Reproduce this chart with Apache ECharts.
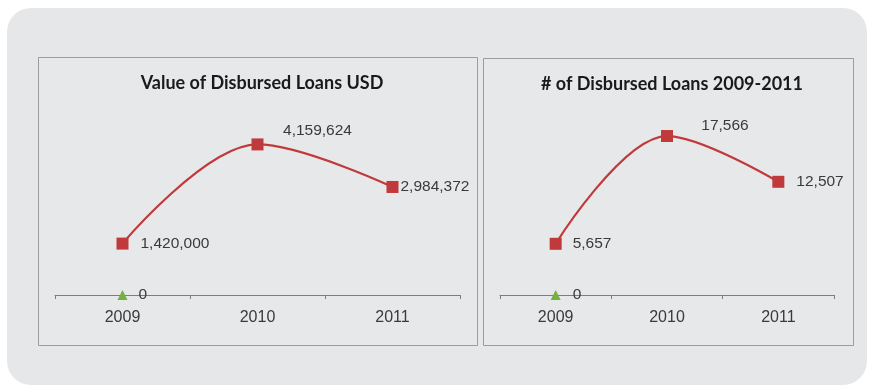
<!DOCTYPE html>
<html><head><meta charset="utf-8">
<script src="https://cdn.jsdelivr.net/npm/echarts@6/dist/echarts.min.js"></script>
<style>html,body{margin:0;padding:0;background:#fff;}#c{width:869px;height:389px;}</style>
</head><body><div id="c"></div>
<script>
const years = ['2009', '2010', '2011'];
const valueUSD = [1420000, 4159624, 2984372];
const countLoans = [5657, 17566, 12507];
const zeroSeries = [0, null, null];
const titles = ['Value of Disbursed Loans USD', '# of Disbursed Loans 2009-2011'];

const RED = '#c0393b', GREEN = '#76b041';
const fmt = v => v.toLocaleString('en-US');
const lblFont = {fontFamily: '"Liberation Sans", Arial, sans-serif', fontSize: 15.5, color: '#3a3a3a'};

function mainData(vals, pos) {
  return vals.map((v, i) => ({value: v, label: Object.assign({show: true, formatter: p => fmt(p.value)}, lblFont, pos[i])}));
}
const leftPos = [{position: 'right', distance: 12}, {position: 'inside', offset: [60, -14]}, {position: 'right', distance: 2}];
const rightPos = [{position: 'right', distance: 11}, {position: 'inside', offset: [58, -10]}, {position: 'right', distance: 12}];

const chart = echarts.init(document.getElementById('c'), null, {renderer: 'canvas'});
const grids = [{left: 55, width: 405, top: 114, height: 181}, {left: 500, width: 334, top: 114, height: 181}];
const maxes = [5000000, 20000];
const titleStyle = {fontFamily: 'Lato', fontWeight: 'bold', fontSize: 18, color: '#1a1a1a'};
chart.setOption({
  animation: false,
  backgroundColor: '#ffffff',
  graphic: [
    {type: 'rect', shape: {x: 7, y: 8, width: 860, height: 377, r: 24}, style: {fill: '#e6e7e8'}, z: -10},
    {type: 'rect', shape: {x: 38.5, y: 57.5, width: 439, height: 288}, style: {fill: '#e7e8e9', stroke: '#9c9c9c', lineWidth: 1}, z: -9},
    {type: 'rect', shape: {x: 483.5, y: 58.5, width: 370, height: 287}, style: {fill: '#e7e8e9', stroke: '#9c9c9c', lineWidth: 1}, z: -9}
  ],
  title: [
    {text: titles[0], left: 257, top: 69, textAlign: 'center', textStyle: titleStyle},
    {text: titles[1], left: 667, top: 70, textAlign: 'center', textStyle: titleStyle}
  ],
  grid: grids,
  xAxis: grids.map((g, i) => ({
    type: 'category', gridIndex: i, data: years, boundaryGap: true,
    axisLine: {lineStyle: {color: '#7d7d7d', width: 1}},
    axisTick: {show: true, length: 4, inside: false, lineStyle: {color: '#7d7d7d'}},
    axisLabel: Object.assign({margin: 15}, lblFont, {fontSize: 16})
  })),
  yAxis: grids.map((g, i) => ({type: 'value', gridIndex: i, min: 0, max: maxes[i], show: false, splitLine: {show: false}})),
  series: [
    {type: 'line', xAxisIndex: 0, yAxisIndex: 0, smooth: 0.35, data: mainData(valueUSD, leftPos), symbol: 'rect', symbolSize: 12,
     lineStyle: {color: RED, width: 2.2}, itemStyle: {color: RED}},
    {type: 'line', xAxisIndex: 0, yAxisIndex: 0, data: zeroSeries, symbol: 'triangle', symbolSize: 10, z: 5,
     lineStyle: {color: GREEN}, itemStyle: {color: GREEN},
     label: Object.assign({show: true, position: 'right', distance: 11, formatter: p => fmt(p.value)}, lblFont)},
    {type: 'line', xAxisIndex: 1, yAxisIndex: 1, smooth: 0.35, data: mainData(countLoans, rightPos), symbol: 'rect', symbolSize: 12,
     lineStyle: {color: RED, width: 2.2}, itemStyle: {color: RED}},
    {type: 'line', xAxisIndex: 1, yAxisIndex: 1, data: zeroSeries, symbol: 'triangle', symbolSize: 10, z: 5,
     lineStyle: {color: GREEN}, itemStyle: {color: GREEN},
     label: Object.assign({show: true, position: 'right', distance: 12, formatter: p => fmt(p.value)}, lblFont)}
  ]
});
</script></body></html>
